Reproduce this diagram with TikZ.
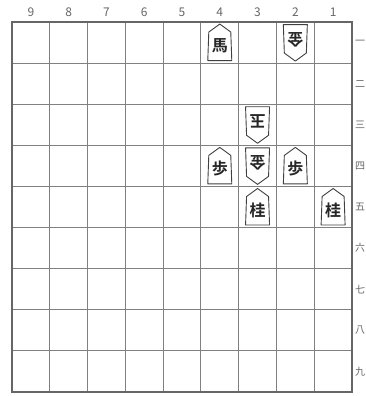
\documentclass[tikz,border=0pt]{standalone}
\usepackage{fontspec}
\newfontfamily\jpfont{Noto Sans CJK JP}
\newfontfamily\jpbold{Noto Sans CJK JP Bold}
\usepackage{tikz}
\usetikzlibrary{positioning,calc}

\begin{document}
\begin{tikzpicture}[
    x=1pt, y=-1pt,
    grid/.style={draw=black!50, line width=0.9pt},
    frame/.style={draw=black!60, line width=1.2pt},
    label/.style={font=\jpfont\fontsize{10}{10}\selectfont, text=black!60, inner sep=0pt},
    numlabel/.style={label, font=\jpfont\fontsize{12}{12}\selectfont},
    koma/.style={draw=black!75, fill=white, line width=0.9pt, line join=round},
    komaji/.style={font=\jpbold\fontsize{16}{16}\selectfont, text=black!85, inner sep=0pt},
]
\useasboundingbox (0,0) rectangle (366,396);

% =====================================================================
% Board: 9 x 9 squares
% =====================================================================
\pgfmathsetmacro{\cw}{340/9}
\pgfmathsetmacro{\ch}{370/9}
\foreach \i in {1,...,8} {
    \draw[grid] (12+\i*\cw,22) -- (12+\i*\cw,392);
    \draw[grid] (12,22+\i*\ch) -- (352,22+\i*\ch);
}
\draw[frame] (12,22) rectangle (352,392);

% Column numbers along the top, rank numbers down the right side
\foreach \c in {1,...,9} {
    \node[numlabel] (col-\c) at (352-\c*\cw+0.5*\cw,12) {\c};
}
\foreach \r/\k in {1/一,2/二,3/三,4/四,5/五,6/六,7/七,8/八,9/九} {
    \node[label] (row-\r) at (360,22+\r*\ch-0.5*\ch) {\k};
}

% =====================================================================
% Pieces: column / rank / name / rotation (0 = sente, 180 = gote)
% =====================================================================
\foreach \c/\r/\name/\side in {4/1/馬/0, 2/1/金/180, 3/3/玉/180, 4/4/歩/0,
                               3/4/金/180, 2/4/歩/0, 3/5/桂/0, 1/5/桂/0} {
    \begin{scope}[shift={(352-\c*\cw+0.5*\cw,22+\r*\ch-0.5*\ch)}, rotate=\side]
        \draw[koma] (0,-18.5) -- (11,-10.5) -- (12,18) -- (-12,18)
            -- (-11,-10.5) -- cycle;
        \node[komaji, rotate=\side] (k-\c\r) at (0,3) {\name};
    \end{scope}
}

\end{tikzpicture}
\end{document}
